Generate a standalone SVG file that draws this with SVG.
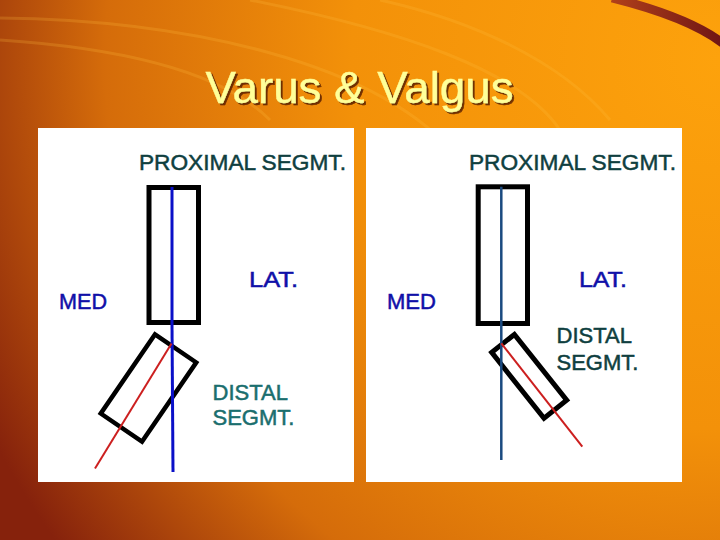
<svg xmlns="http://www.w3.org/2000/svg" width="720" height="540" viewBox="0 0 720 540">
  <defs>
    <radialGradient id="bg" cx="720" cy="60" r="820" gradientUnits="userSpaceOnUse">
      <stop offset="0" stop-color="#FDA20C"/>
      <stop offset="0.45" stop-color="#F39109"/>
      <stop offset="0.75" stop-color="#D56C0A"/>
      <stop offset="1" stop-color="#86220C"/>
    </radialGradient>
    <linearGradient id="arc" x1="0" y1="0" x2="1" y2="0">
      <stop offset="0" stop-color="#B0401A"/>
      <stop offset="1" stop-color="#6E1414"/>
    </linearGradient>
    <filter id="shadow" x="-10%" y="-20%" width="120%" height="150%">
      <feDropShadow dx="2" dy="2" stdDeviation="0.6" flood-color="#5A2200" flood-opacity="0.85"/>
    </filter>
    <style>
      .panel { fill: #FFFFFF; }
      .seg { fill: none; stroke: #000000; stroke-linejoin: miter; }
      .lbl { font-family: "Liberation Sans", Arial, sans-serif; font-size: 22px; stroke-width: 0.5px; }
      .dark { fill: #0F3F3F; stroke: #0F3F3F; }
      .blue { fill: #1010A8; stroke: #1010A8; }
      .teal { fill: #1A6E6E; stroke: #1A6E6E; }
      .red { stroke: #CC1F1F; stroke-width: 2; fill: none; }
    </style>
  </defs>

  <!-- background -->
  <rect x="0" y="0" width="720" height="540" fill="url(#bg)"/>
  <g fill="none" stroke="#FFC040" stroke-opacity="0.22" stroke-width="3">
    <path d="M0,18 C180,20 380,60 460,160"/>
    <path d="M0,40 C150,50 230,80 270,120"/>
    <path d="M250,0 C400,30 520,70 560,130"/>
    <path d="M380,0 C470,20 560,60 610,120"/>
  </g>
  <path d="M612,-2 C660,10 700,25 725,45" fill="none" stroke="url(#arc)" stroke-width="9"/>

  <!-- title -->
  <g id="title" filter="url(#shadow)">
    <text x="359.5" y="102.5" font-family="'Liberation Sans', Arial, sans-serif" font-size="45" text-anchor="middle" fill="#FFFF99" stroke="#FFFF99" stroke-width="0.4" textLength="308" lengthAdjust="spacingAndGlyphs">Varus &amp; Valgus</text>
  </g>

  <!-- Left panel: Varus -->
  <g id="panel-left">
    <rect class="panel" x="38" y="128" width="316" height="354"/>
    <text class="lbl dark" x="139" y="170" textLength="207" lengthAdjust="spacingAndGlyphs">PROXIMAL SEGMT.</text>
    <g id="left-proximal">
      <rect class="seg" x="149" y="187.5" width="49.5" height="135" stroke-width="5"/>
    </g>
    <g id="left-distal">
      <rect class="seg" x="-25" y="-48" width="50" height="96" stroke-width="4.5" transform="translate(148.5,388) rotate(34.4)"/>
    </g>
    <text class="lbl blue" x="249" y="287" textLength="49" lengthAdjust="spacingAndGlyphs">LAT.</text>
    <text class="lbl blue" x="59" y="309" textLength="48" lengthAdjust="spacingAndGlyphs">MED</text>
    <text class="lbl teal" x="212.5" y="400">DISTAL</text>
    <text class="lbl teal" x="212.5" y="425">SEGMT.</text>
  </g>

  <!-- Right panel: Valgus -->
  <g id="panel-right">
    <rect class="panel" x="366" y="128" width="316" height="354"/>
    <text class="lbl dark" x="469" y="170" textLength="207" lengthAdjust="spacingAndGlyphs">PROXIMAL SEGMT.</text>
    <g id="right-proximal">
      <rect class="seg" x="478.2" y="186.8" width="49.3" height="136.7" stroke-width="5"/>
    </g>
    <g id="right-distal">
      <rect class="seg" x="-14.5" y="-42" width="29" height="84" stroke-width="5" transform="translate(529.2,376.3) rotate(-38.5)"/>
    </g>
    <text class="lbl blue" x="579" y="287" textLength="48" lengthAdjust="spacingAndGlyphs">LAT.</text>
    <text class="lbl blue" x="387" y="309" textLength="49" lengthAdjust="spacingAndGlyphs">MED</text>
    <text class="lbl dark" x="556.5" y="343">DISTAL</text>
    <text class="lbl dark" x="556.5" y="370">SEGMT.</text>
  </g>

  <!-- connectors / axis lines -->
  <g id="connectors">
    <line x1="172" y1="187" x2="172" y2="325" stroke="#0A10C8" stroke-width="3"/>
    <line x1="172" y1="325" x2="173" y2="472" stroke="#0A10C8" stroke-width="3"/>
    <line class="red" x1="95" y1="468.5" x2="171.5" y2="343.5"/>
    <line x1="501.3" y1="186.7" x2="501.3" y2="460" stroke="#1A4A80" stroke-width="2.5"/>
    <line class="red" x1="501.3" y1="343.3" x2="582.3" y2="446.7"/>
  </g>
</svg>
